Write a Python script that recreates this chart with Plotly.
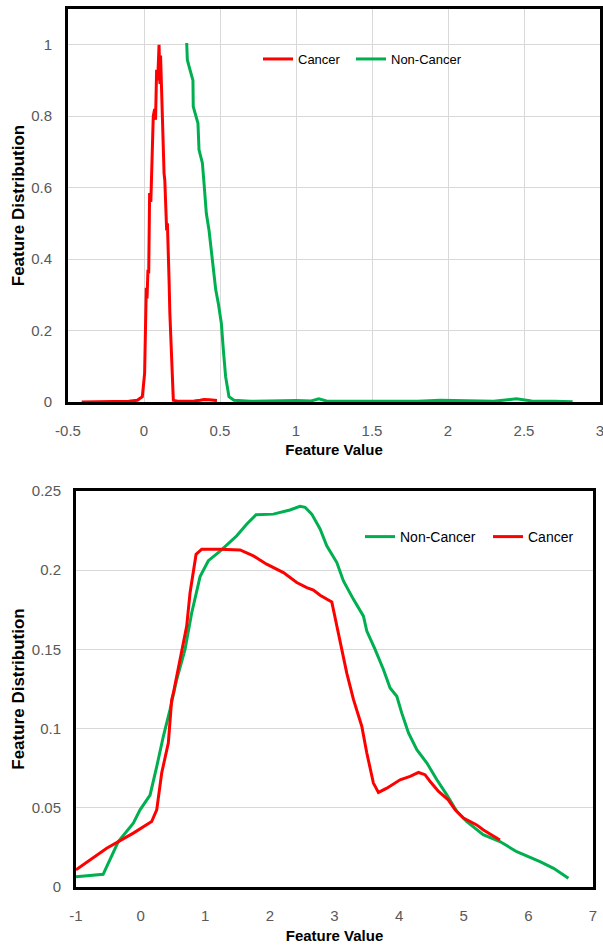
import plotly.graph_objects as go

# ---------------- Top chart data ----------------
top_cancer_x = [-0.41, -0.3, -0.2, -0.1, -0.044, -0.011, 0.004, 0.011, 0.015, 0.02, 0.026, 0.031, 0.037,
                0.045, 0.052, 0.061, 0.07, 0.076, 0.083, 0.09, 0.099, 0.105, 0.109, 0.114, 0.117, 0.12,
                0.126, 0.132, 0.137, 0.143, 0.149, 0.154, 0.16, 0.165, 0.17, 0.175, 0.18, 0.186, 0.193,
                0.22, 0.27, 0.33, 0.37, 0.395, 0.43, 0.46, 0.48]
top_cancer_y = [0.0, 0.0, 0.001, 0.002, 0.005, 0.015, 0.08, 0.2, 0.32, 0.29, 0.37, 0.36, 0.585,
                0.56, 0.7, 0.8, 0.82, 0.79, 0.93, 0.9, 1.0, 0.89, 0.97, 0.88, 0.9, 0.8,
                0.7, 0.64, 0.62, 0.556, 0.48, 0.5, 0.35, 0.34, 0.25, 0.2, 0.17, 0.08, 0.005,
                0.002, 0.002, 0.003, 0.005, 0.007, 0.006, 0.005, 0.004]

top_noncancer_x = [0.281, 0.285, 0.296, 0.307, 0.322, 0.324, 0.34, 0.355, 0.362, 0.384, 0.395, 0.41,
                   0.428, 0.443, 0.456, 0.472, 0.489, 0.509, 0.522, 0.537, 0.559, 0.592, 0.7, 0.8,
                   0.9, 1.0, 1.1, 1.15, 1.2, 1.4, 1.6, 1.8, 1.95, 2.1, 2.3, 2.45, 2.55, 2.7, 2.82]
top_noncancer_y = [1.005, 0.958, 0.94, 0.92, 0.9, 0.827, 0.8, 0.78, 0.706, 0.669, 0.612, 0.528,
                   0.48, 0.426, 0.37, 0.314, 0.276, 0.22, 0.146, 0.071, 0.015, 0.005, 0.002, 0.003,
                   0.003, 0.004, 0.003, 0.009, 0.003, 0.002, 0.003, 0.002, 0.005, 0.003, 0.002, 0.009,
                   0.003, 0.002, 0.001]

top_xtick_vals = [-0.5, 0, 0.5, 1, 1.5, 2, 2.5, 3]
top_xtick_text = ["-0.5", "0", "0.5", "1", "1.5", "2", "2.5", "3"]

# ---------------- Bottom chart data ----------------
bot_noncancer_x = [-1.0, -0.58, -0.345, -0.19, -0.113, -0.009, 0.146, 0.249, 0.351, 0.455, 0.558,
                   0.687, 0.79, 0.92, 1.048, 1.23, 1.488, 1.64, 1.786, 2.054, 2.21, 2.31, 2.467,
                   2.545, 2.648, 2.777, 2.88, 3.036, 3.138, 3.293, 3.448, 3.5, 3.628, 3.757, 3.86,
                   3.964, 4.04, 4.145, 4.274, 4.43, 4.584, 4.738, 4.893, 5.048, 5.3, 5.56, 5.82,
                   6.18, 6.39, 6.62]
bot_noncancer_y = [0.0065, 0.008, 0.0287, 0.036, 0.0403, 0.0487, 0.058, 0.076, 0.095, 0.112, 0.131,
                   0.15, 0.173, 0.196, 0.206, 0.212, 0.2217, 0.229, 0.235, 0.2354, 0.2369, 0.238, 0.2403,
                   0.2397, 0.2354, 0.226, 0.2154, 0.2048, 0.1932, 0.1816, 0.171, 0.1616, 0.15, 0.1373, 0.1257,
                   0.1204, 0.1099, 0.0972, 0.0867, 0.0783, 0.0677, 0.0582, 0.0477, 0.0413, 0.033, 0.0287, 0.0223,
                   0.016, 0.0118, 0.0055]

bot_cancer_x = [-1.0, -0.525, -0.113, -0.035, 0.171, 0.249, 0.326, 0.429, 0.48, 0.507, 0.636, 0.713,
                0.765, 0.858, 0.946, 1.229, 1.539, 1.745, 1.95, 2.107, 2.21, 2.416, 2.571, 2.674,
                2.777, 2.958, 3.113, 3.19, 3.293, 3.422, 3.5, 3.602, 3.68, 3.81, 4.015, 4.17,
                4.3, 4.4, 4.48, 4.61, 4.76, 4.867, 4.995, 5.2, 5.305, 5.56]
bot_cancer_y = [0.0108, 0.0245, 0.034, 0.036, 0.0413, 0.0487, 0.072, 0.091, 0.118, 0.1225, 0.15, 0.1647,
                0.1858, 0.21, 0.2133, 0.2133, 0.2128, 0.209, 0.2038, 0.2006, 0.1985, 0.1922, 0.189, 0.1875,
                0.1842, 0.18, 0.15, 0.135, 0.1184, 0.1015, 0.0846, 0.0656, 0.0597, 0.0624, 0.0677, 0.0698,
                0.0723, 0.0709, 0.0666, 0.0603, 0.055, 0.0487, 0.0435, 0.0392, 0.036, 0.0297]

bot_xtick_vals = [-1, 0, 1, 2, 3, 4, 5, 6, 7]
bot_xtick_text = ["-1", "0", "1", "2", "3", "4", "5", "6", "7"]

RED = "#ff0000"
GREEN = "#00b050"
FONT = "Liberation Sans, Arial, sans-serif"
TICKC = "#595959"
GRID = "#d9d9d9"

fig = go.Figure()
fig.add_trace(go.Scatter(x=top_cancer_x, y=top_cancer_y, mode="lines", name="Cancer",
                         line=dict(color=RED, width=3), xaxis="x", yaxis="y", legend="legend"))
fig.add_trace(go.Scatter(x=top_noncancer_x, y=top_noncancer_y, mode="lines", name="Non-Cancer",
                         line=dict(color=GREEN, width=3), xaxis="x", yaxis="y", legend="legend3"))
fig.add_trace(go.Scatter(x=bot_noncancer_x, y=bot_noncancer_y, mode="lines", name="Non-Cancer",
                         line=dict(color=GREEN, width=3), xaxis="x2", yaxis="y2", legend="legend2"))
fig.add_trace(go.Scatter(x=bot_cancer_x, y=bot_cancer_y, mode="lines", name="Cancer",
                         line=dict(color=RED, width=3), xaxis="x2", yaxis="y2", legend="legend4"))

W, H = 603, 951

def px_x(p):
    return p / W

def px_y(p):
    return 1 - p / H

def leg_x(line_start):
    return (line_start - 7) / W

axis_common = dict(showline=True, mirror=True, linecolor="black", linewidth=3, zeroline=False,
                   automargin=False, ticks="", ticklabeloverflow="allow",
                   tickfont=dict(family=FONT, size=15, color=TICKC))
xtitle_font = dict(family=FONT, size=15, color="black", weight="bold")
ytitle_font = dict(family=FONT, size=17, color="black", weight="bold")

def leg(x, y, size):
    return dict(orientation="h", x=x, y=y, xanchor="left", yanchor="middle",
                bgcolor="rgba(0,0,0,0)", font=dict(family=FONT, size=size, color="black"),
                itemwidth=30, tracegroupgap=0)

fig.update_layout(
    width=W, height=H,
    margin=dict(l=0, r=0, t=0, b=0),
    paper_bgcolor="white", plot_bgcolor="white",
    xaxis=dict(domain=[px_x(68), px_x(600)], range=[-0.5, 3], anchor="y",
               tickvals=top_xtick_vals, ticktext=top_xtick_text,
               showgrid=True, gridcolor=GRID, gridwidth=1, ticklabelstandoff=13,
               title=dict(text="Feature Value", font=xtitle_font, standoff=7),
               **axis_common),
    yaxis=dict(domain=[px_y(402), px_y(9)], range=[0, 1.1], anchor="x", dtick=0.2, tick0=0,
               showgrid=True, gridcolor=GRID, gridwidth=1, ticklabelstandoff=10,
               title=dict(text="Feature Distribution", font=ytitle_font, standoff=3),
               **axis_common),
    xaxis2=dict(domain=[px_x(76), px_x(593)], range=[-1, 7], anchor="y2",
                tickvals=bot_xtick_vals, ticktext=bot_xtick_text,
                showgrid=False, ticklabelstandoff=13,
                title=dict(text="Feature Value", font=xtitle_font, standoff=8),
                **axis_common),
    yaxis2=dict(domain=[px_y(887), px_y(491)], range=[0, 0.25], anchor="x2", dtick=0.05, tick0=0,
                showgrid=True, gridcolor=GRID, gridwidth=1, ticklabelstandoff=9,
                title=dict(text="Feature Distribution", font=ytitle_font, standoff=3),
                **axis_common),
    legend=leg(leg_x(265), px_y(59), 13),
    legend3=leg(leg_x(358), px_y(59), 13),
    legend2=leg(leg_x(367), px_y(537), 14),
    legend4=leg(leg_x(495), px_y(537), 14),
    showlegend=True,
)

# Remove the default 8px page margin and scrollbars so the figure fills the window exactly.
fig.write_html(
    "out.html",
    config={"displayModeBar": False},
    post_script="document.documentElement.style.overflow='hidden';"
                "document.body.style.margin='0';document.body.style.overflow='hidden';",
)
